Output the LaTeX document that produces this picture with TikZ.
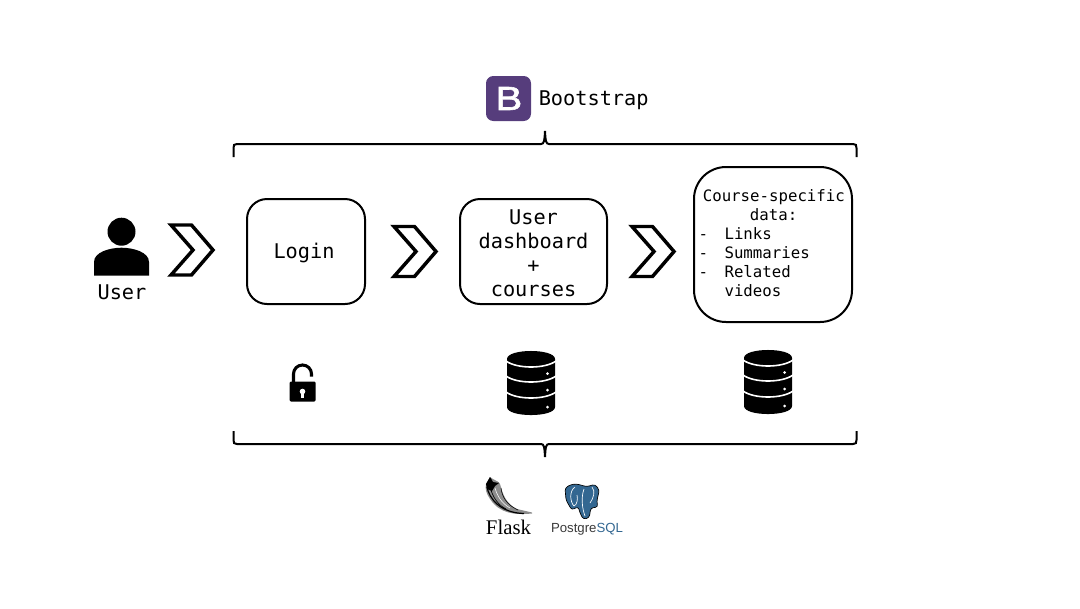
\documentclass[tikz,border=0pt]{standalone}
\usepackage{fontspec}
\setmonofont{DejaVu Sans Mono}
\newfontfamily\logosans{Liberation Sans}
\newfontfamily\logob[FakeBold=1.8,FakeStretch=1.2]{Liberation Sans}
\newfontfamily\logoserif{Liberation Serif}
\usetikzlibrary{calc,positioning}
\definecolor{bootpurple}{HTML}{563D7C}
\definecolor{pgblue}{HTML}{336791}
\definecolor{pgtext}{HTML}{3A3A3A}

\tikzset{
	stepbox/.style={draw, line width=1.5pt, inner sep=0pt, align=center, font=\ttfamily\fontsize{15.2}{18.2}\selectfont},
	smalltext/.style={font=\ttfamily\fontsize{11.8}{14.25}\selectfont},
	bigtext/.style={font=\ttfamily\fontsize{15.2}{18}\selectfont, inner sep=0pt},
	chevron/.style={draw, line width=2.6pt, miter limit=10},
	dbicon/.pic={
		\fill[black] (-24,-24) .. controls (-24,-34.7) and (24,-34.7) .. (24,-24) -- (24,24) .. controls (24,34.7) and (-24,34.7) .. (-24,24) -- cycle;
		\foreach \dy in {-22,-7,9}{
			\draw[white, line width=1.2pt] (-25,\dy) .. controls (-14,{\dy+8}) and (14,{\dy+8}) .. (25,\dy);
		}
		\foreach \dy in {-9.5,7,24}{
			\fill[white] (16.5,\dy) circle (1.5);
		}
	},
}

\begin{document}
\begin{tikzpicture}[x=0.75pt,y=-0.75pt]
	\useasboundingbox (0,0) rectangle (1080,608);

	%% user
	\fill (121.5,231.7) circle (14);
	\fill (94,275.7) -- (94,262) .. controls (94,252) and (110,247.7) .. (121.5,247.7) .. controls (133,247.7) and (149,252) .. (149,262) -- (149,275.7) -- cycle;
	\node[bigtext] (user) at (122,292) {User};

	%% steps
	\foreach \x/\y in {0/0,223/1.5,461/1.5}{
		\draw[chevron] ({171+\x},{225+\y}) -- ({191.5+\x},{225+\y}) -- ({213+\x},{250+\y}) -- ({191.5+\x},{275+\y}) -- ({171+\x},{275+\y}) -- ({193+\x},{250+\y}) -- cycle;
	}
	\node[stepbox, rounded corners=15pt, minimum width=88.5pt, minimum height=78.75pt] (login) at (306,251.5) {\rule{0pt}{14pt}Login\hspace*{3pt}};
	\node[stepbox, rounded corners=15pt, minimum width=110.25pt, minimum height=78.75pt] (dashboard) at (533.5,251.5) {\rule{0pt}{13.6pt}User\\dashboard\\+\\courses};
	\node[stepbox, smalltext, rounded corners=24pt, minimum width=118.5pt, minimum height=116.25pt, text width=111.7pt, align=left] (course) at (773,244.5)
		{\hspace*{3.2pt}Course-specific\\\hspace*{38.5pt}data:\\\makebox[19.5pt][l]{-}Links\\\makebox[19.5pt][l]{-}Summaries\\\makebox[19.5pt][l]{-}Related\\\makebox[19.5pt][l]{}videos\rule[-1.5pt]{0pt}{0pt}};

	%% bootstrap
	\fill[bootpurple, rounded corners=5.5pt] (486,76) rectangle (531,121);
	\node[white, inner sep=0pt, font=\logob\fontsize{25}{25}\selectfont] (bootb) at (509,98.5) {B};
	\node[bigtext, anchor=west] (bootstrap) at (538.5,100) {Bootstrap};

	%% braces
	\foreach \ly/\s in {144/1,444/-1}{
		\draw[line width=1.5pt] (233.5,{\ly+13*\s}) -- (233.5,{\ly+4*\s}) .. controls (233.5,{\ly+1*\s}) and (234,\ly) .. (237,\ly) -- (541,\ly) .. controls (544,\ly) and (544.5,{\ly-3*\s}) .. (545,{\ly-13*\s}) .. controls (545.5,{\ly-3*\s}) and (546,\ly) .. (549,\ly) -- (853,\ly) .. controls (856,\ly) and (856.5,{\ly+1*\s}) .. (856.5,{\ly+4*\s}) -- (856.5,{\ly+13*\s});
	}

	%% lock
	\fill[rounded corners=1pt] (289.5,381.5) rectangle (315.7,401.5);
	\draw[line width=2.3pt] (293.5,382) -- (293.5,374) arc (180:360:9 and 9) -- (311.5,376.5);
	\fill[white] (302.5,391.5) circle (2.8);
	\fill[white] (301.3,392) -- (303.7,392) -- (303.7,397.5) -- (301.3,397.5) -- cycle;

	%% databases
	\pic at (531,383) {dbicon};
	\pic at (768,382) {dbicon};

	%% flask
	\fill[black!45] (490,477) .. controls (495,481) and (499,481) .. (500,484) .. controls (503,494) and (505,503) .. (517,509) -- (532,512.5) -- (532,513.5) .. controls (515,515) and (500,514) .. (490,499) .. controls (486,493) and (485,489) .. (486,484) -- cycle;
	\fill[black] (490,477) -- (493,482) -- (499,483) -- (495,486) -- (492,491) -- (487,489) -- (486,484) -- cycle;
	\draw[black, line width=0.9pt] (487,487) .. controls (489,498) and (500,513) .. (524,513.5);
	\draw[black, line width=0.5pt] (491,490) .. controls (493,497) and (498,505) .. (506,509);
	\draw[black, line width=0.4pt] (501,488) .. controls (502,497) and (507,505) .. (518,510);
	\draw[white, line width=0.4pt] (495,488) .. controls (497,495) and (501,503) .. (510,508);
	\node[inner sep=0pt, font=\logoserif\fontsize{15.6}{16}\selectfont] (flask) at (508.5,527) {Flask};

	%% postgres
	\filldraw[fill=pgblue, draw=black, line width=0.5pt, rounded corners=2pt] (565,488) -- (571,484.5) -- (577,484) -- (586.7,486.7) -- (595,484.3) -- (599.3,490) -- (596.7,501.7) -- (598,507) -- (590.7,508) -- (589.3,517.7) -- (583.3,519.3) -- (580,513) -- (578.3,506.7) -- (571.7,510) -- (566,500) -- cycle;
	\draw[white, line width=0.5pt] (575,487) .. controls (569,491) and (570,502) .. (574,506) .. controls (577,505) and (578,499) .. (577,495);
	\draw[white, line width=0.5pt] (584,489) .. controls (581,497) and (582,508) .. (585,516);
	\draw[white, line width=0.5pt] (592,487) .. controls (596,491) and (593,499) .. (590,503);
	\node[inner sep=0pt, font=\logosans\fontsize{9.9}{10}\selectfont] (postgres) at (587,529) {\textcolor{pgtext}{Postgre}\textcolor{pgblue}{SQL}};
\end{tikzpicture}
\end{document}
